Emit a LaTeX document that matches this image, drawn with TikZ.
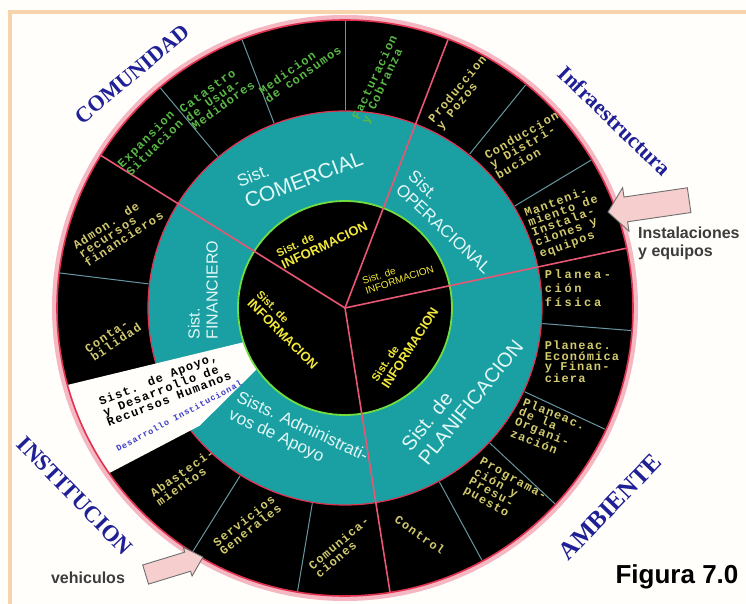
\documentclass[tikz,border=0pt]{standalone}
\usepackage{fontspec}
\setmainfont{Liberation Sans}
\newfontfamily\regionserif{Liberation Serif}
\newfontfamily\cellmono{Liberation Mono}[LetterSpace=10]
\newfontfamily\cellmonowide{Liberation Mono}[LetterSpace=22]

\definecolor{framepeach}{RGB}{248,212,172}
\definecolor{paper}{RGB}{255,254,250}
\definecolor{ringteal}{RGB}{26,160,162}
\definecolor{ringred}{RGB}{225,50,80}
\definecolor{spokered}{RGB}{232,86,116}
\definecolor{divgrey}{RGB}{104,150,160}
\definecolor{ringgreen}{RGB}{112,222,64}
\definecolor{infoyellow}{RGB}{242,232,60}
\definecolor{cellyellow}{RGB}{210,202,110}
\definecolor{cellgreen}{RGB}{90,184,70}
\definecolor{navy}{RGB}{32,32,150}
\definecolor{tealwhite}{RGB}{228,248,248}
\definecolor{arrowpink}{RGB}{246,206,206}
\definecolor{arrowgrey}{RGB}{110,110,110}
\definecolor{notegrey}{RGB}{60,60,60}
\definecolor{bandblue}{RGB}{60,60,200}

\newcommand{\cellfont}{\cellmono\bfseries\fontsize{12}{10.5}\selectfont}

\begin{document}
\begin{tikzpicture}[x=1pt,y=1pt,
  celltxt/.style={font=\cellfont, text=cellyellow, align=left, inner sep=0pt},
  cellgrn/.style={celltxt, text=cellgreen},
  tealtxt/.style={text=tealwhite, align=left, inner sep=0pt},
  infotxt/.style={text=infoyellow, align=left, inner sep=0pt, font=\bfseries\fontsize{13}{13}\selectfont},
  region/.style={text=navy, inner sep=0pt, font=\regionserif\bfseries\fontsize{22}{22}\selectfont},
  note/.style={text=notegrey, align=left, inner sep=0pt, font=\bfseries\fontsize{16}{18}\selectfont},
  blockarrow/.style={fill=arrowpink, draw=arrowgrey, line width=0.9, line join=miter},
  divider/.style={divgrey, line width=1},
  spoke/.style={spokered, line width=1.6}]

\useasboundingbox (-345,-296) rectangle (401,308);
\fill[paper] (-345,-296) rectangle (401,308);
\draw[framepeach, line width=4] (-335,-320) rectangle (430,296);

% outer black ring and teal ring
\fill[black] (0,0) circle (288);
\fill[ringteal, draw=ringred, line width=1.2] (0,0) circle (197);

% white band (Recursos Humanos)
\fill[paper] (199:100) -- (195.5:288) arc[start angle=195.5, end angle=215, radius=288]
  -- (219:187) -- (214:100) -- cycle;

% cell dividers of the outer ring
\foreach \a in {130,111,90,51,31,-4.5,-25,-43,-61.5,260.5,238,173}
  \draw[divider] (\a:198) -- (\a:287);

% central information disk
\fill[black, draw=ringgreen, line width=1.8] (0,0) circle (107);

% main spokes
\foreach \a in {148,69,12,-81}
  \draw[spoke] (0,0) -- (\a:288);

% rim of the wheel
\draw[ringred!35, line width=5] (0,0) circle (290.5);
\draw[ringred, line width=1.6] (0,0) circle (288);

% ---- surroundings
\node[region, rotate=40] (comunidad) at (-213,234) {COMUNIDAD};
\node[region, rotate=-44] (infra) at (270,187) {Infraestructura};
\node[region, rotate=-46, font=\regionserif\bfseries\fontsize{23}{23}\selectfont] (institucion) at (-270,-188) {INSTITUCION};
\node[region, rotate=46, font=\regionserif\bfseries\fontsize{25}{25}\selectfont] (ambiente) at (265,-199) {AMBIENTE};

% ---- teal subsystems
\node[tealtxt, rotate=21, font=\fontsize{21}{23}\selectfont] (comercial) at (-45,138)
  {{\fontsize{17}{17}\selectfont Sist.}\\COMERCIAL};
\node[tealtxt, rotate=-43, font=\fontsize{17}{18}\selectfont] (operacional) at (105,86)
  {Sist.\\OPERACIONAL};
\node[tealtxt, rotate=51, font=\fontsize{20}{22}\selectfont] (planif) at (117,-87)
  {Sist. de\\PLANIFICACION};
\node[tealtxt, rotate=-25, font=\fontsize{17}{19}\selectfont] (admin) at (-47,-128)
  {Sists. Administrati-\\vos de Apoyo};
\node[tealtxt, rotate=90, font=\fontsize{16}{18}\selectfont] (financiero) at (-142,18)
  {Sist.\\FINANCIERO};

% ---- information subsystems
\node[infotxt, rotate=25] (infoA) at (-23,68) {{\fontsize{11}{11}\selectfont Sist. de}\\INFORMACION};
\node[infotxt, rotate=18, font=\fontsize{10}{10}\selectfont] (infoB) at (53,33) {Sist. de\\INFORMACION};
\node[infotxt, rotate=57] (infoC) at (60,-37) {{\fontsize{11}{11}\selectfont Sist. de}\\INFORMACION};
\node[infotxt, rotate=-45] (infoD) at (-58,-22) {{\fontsize{11}{11}\selectfont Sist. de}\\INFORMACION};

% ---- commercial cells
\node[cellgrn, rotate=45] (cA) at (-195,165) {Expansion\\Situacion};
\node[cellgrn, rotate=36] (cB) at (-128,211) {Catastro\\de Usua-\\Medidores};
\node[cellgrn, rotate=35] (cC) at (-45,238) {Medicion\\de consumos};
\node[cellgrn, rotate=65] (cD) at (35,228) {Facturacion\\y Cobranza};

% ---- operational cells
\node[celltxt, rotate=50] (cE) at (117,215) {Produccion\\y Pozos};
\node[celltxt, rotate=30] (cF) at (182,163) {Conduccion\\y Distri-\\bucion};
\node[celltxt, rotate=20] (cG) at (222,86) {Manteni-\\miento de\\Instala-\\ciones y\\equipos};

% ---- planning cells
\node[celltxt, font=\cellmonowide\bfseries\fontsize{12}{14}\selectfont] (cH) at (233,20) {Planea-\\ción\\física};
\node[celltxt] (cI) at (237,-54) {Planeac.\\Económica\\y Finan-\\ciera};
\node[celltxt, rotate=-22] (cJ) at (203,-121) {Planeac.\\de la\\Organi-\\zación};
\node[celltxt, rotate=-29] (cK) at (160,-186) {Programa-\\ción y\\Presu-\\puesto};
\node[celltxt, rotate=-35] (cL) at (75,-227) {Control};

% ---- administrative cells
\node[celltxt, rotate=40] (cM) at (-3,-239) {Comunica-\\ciones};
\node[celltxt, rotate=38] (cN) at (-98,-217) {Servicios\\Generales};
\node[celltxt, rotate=35] (cO) at (-160,-169) {Abasteci-\\mientos};

% ---- financial cells
\node[celltxt, rotate=33] (cP) at (-227,78) {Admon. de\\recursos\\financieros};
\node[celltxt, rotate=34] (cQ) at (-232,-30) {Conta-\\bilidad};

% ---- human resources band
\node[celltxt, text=black, rotate=21] (rrhh) at (-180,-80) {Sist. de Apoyo,\\y Desarrollo de\\Recursos Humanos};
\node[celltxt, text=bandblue, rotate=28, font=\cellmono\bfseries\fontsize{8.5}{8.5}\selectfont] (desinst) at (-166,-108) {Desarrollo Institucional};

% ---- pointers
\begin{scope}[shift={(263,96)}, rotate=8.3]
  \draw[blockarrow] (0,0) -- (18,22) -- (18,12.5) -- (82,12.5) -- (82,-12.5)
    -- (18,-12.5) -- (18,-22) -- cycle;
\end{scope}
\node[note] (instal) at (293,65) [anchor=west] {Instalaciones\\y equipos};
\begin{scope}[shift={(-142,-249)}, rotate=197]
  \draw[blockarrow] (0,0) -- (16,15) -- (16,10) -- (60,10) -- (60,-10)
    -- (16,-10) -- (16,-15) -- cycle;
\end{scope}
\node[note] (vehic) at (-257,-270) {vehiculos};

\node[text=black, inner sep=0pt, font=\bfseries\fontsize{26}{26}\selectfont] (figura) at (332,-269) {Figura 7.0};
\end{tikzpicture}
\end{document}
